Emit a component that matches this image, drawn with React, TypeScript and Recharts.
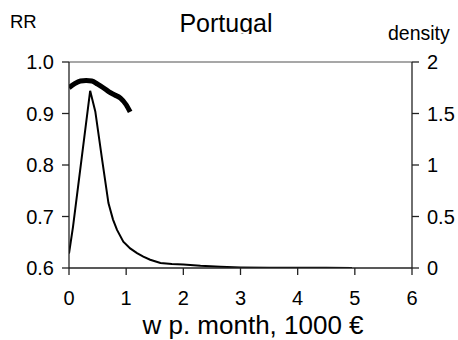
import React from 'react';
import { LineChart, Line, XAxis, YAxis, ReferenceLine, Label } from 'recharts';

// Relative risk (left axis) by monthly wage, thousands of euro
const rrWage = [0, 0.1, 0.2, 0.3, 0.4, 0.5, 0.6, 0.7, 0.8, 0.9, 1.0, 1.07];
const rrValue = [0.95, 0.958, 0.963, 0.964, 0.963, 0.957, 0.95, 0.942, 0.936, 0.93, 0.917, 0.903];

// Wage density (right axis)
const densWage = [0, 0.07, 0.37, 0.46, 0.58, 0.69, 0.77, 0.84, 0.95, 1.07, 1.19, 1.3, 1.42, 1.6, 1.8, 2.0, 2.3, 2.65, 3.0, 3.5, 4.0, 4.5, 4.95];
const densValue = [0.14, 0.4, 1.72, 1.52, 1.05, 0.63, 0.47, 0.37, 0.255, 0.19, 0.145, 0.11, 0.08, 0.048, 0.04, 0.035, 0.022, 0.012, 0.006, 0.003, 0.003, 0.002, 0.001];

const xTicks = [0, 1, 2, 3, 4, 5, 6];
const rrTicks = [0.6, 0.7, 0.8, 0.9, 1.0];
const densTicks = [0, 0.5, 1, 1.5, 2];

const rrData = rrWage.map((w, i) => ({ w, rr: rrValue[i] }));
const densData = densWage.map((w, i) => ({ w, d: densValue[i] }));

const FONT = '"Liberation Sans", Arial, sans-serif';
const AXIS = '#222';

export default function App() {
  const tickStyle = { fill: '#000', fontSize: 20, fontFamily: FONT };
  return (
    <div style={{ position: 'absolute', left: 0, top: 0, background: '#fff' }}>
      <LineChart width={458} height={340} margin={{ top: 62, right: 0, bottom: 0, left: 0 }}>
        <XAxis
          dataKey="w"
          type="number"
          domain={[0, 6]}
          ticks={xTicks}
          allowDataOverflow
          height={72}
          tickSize={7}
          tickMargin={16}
          tick={tickStyle}
          axisLine={{ stroke: AXIS, strokeWidth: 1.3 }}
          tickLine={{ stroke: AXIS, strokeWidth: 1.3 }}
        >
          <Label
            content={() => (
              <text x={253} y={334} textAnchor="middle" fontSize={26} fontFamily={FONT} fill="#000">
                w p. month, 1000 €
              </text>
            )}
          />
        </XAxis>
        <YAxis
          yAxisId="rr"
          orientation="left"
          domain={[0.6, 1.0]}
          ticks={rrTicks}
          allowDataOverflow
          width={69}
          tickSize={7}
          tickMargin={8}
          tick={tickStyle}
          tickFormatter={(v: number) => v.toFixed(1)}
          axisLine={{ stroke: AXIS, strokeWidth: 1.3 }}
          tickLine={{ stroke: AXIS, strokeWidth: 1.3 }}
        >
          <Label
            content={() => (
              <g>
                <text x={10} y={28} fontSize={18.5} fontFamily={FONT} fill="#000">RR</text>
                <defs>
                  <clipPath id="title-clip">
                    <rect x={0} y={0} width={458} height={34} />
                  </clipPath>
                </defs>
                <text x={226} y={32} textAnchor="middle" fontSize={25} fontFamily={FONT} fill="#000" clipPath="url(#title-clip)">
                  Portugal
                </text>
              </g>
            )}
          />
        </YAxis>
        <YAxis
          yAxisId="dens"
          orientation="right"
          domain={[0, 2]}
          ticks={densTicks}
          allowDataOverflow
          width={46}
          tickSize={7}
          tickMargin={8}
          tick={tickStyle}
          axisLine={{ stroke: AXIS, strokeWidth: 1.3 }}
          tickLine={{ stroke: AXIS, strokeWidth: 1.3 }}
        >
          <Label
            content={() => (
              <text x={388} y={40} fontSize={19.5} fontFamily={FONT} fill="#000">density</text>
            )}
          />
        </YAxis>
        <ReferenceLine yAxisId="rr" y={1.0} stroke="#8a8a8a" strokeWidth={1.5} />
        <Line
          yAxisId="dens"
          data={densData}
          dataKey="d"
          type="linear"
          stroke="#000"
          strokeWidth={2}
          dot={false}
          isAnimationActive={false}
        />
        <Line
          yAxisId="rr"
          data={rrData}
          dataKey="rr"
          type="monotone"
          stroke="#000"
          strokeWidth={5}
          dot={false}
          isAnimationActive={false}
        />
      </LineChart>
    </div>
  );
}
